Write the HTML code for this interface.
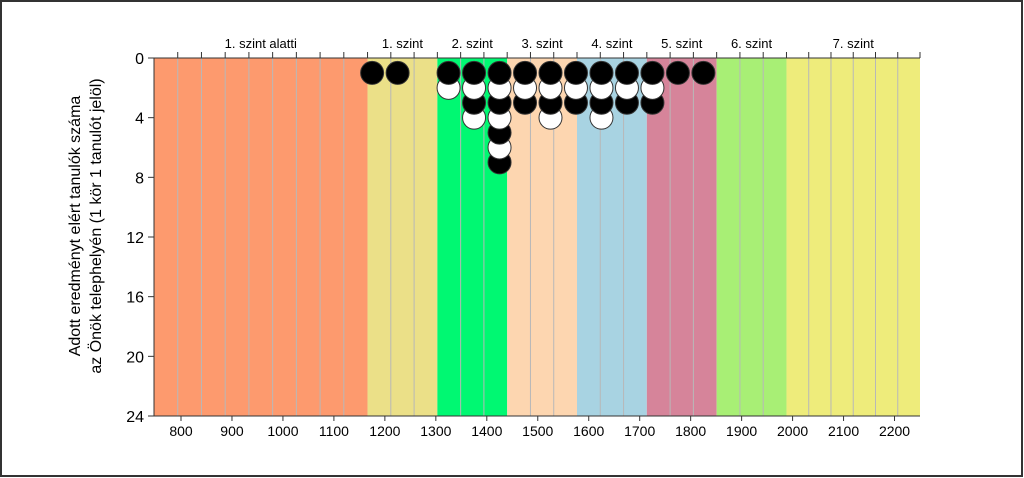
<!DOCTYPE html>
<html><head><meta charset="utf-8"><style>
html,body{margin:0;padding:0;background:#fff}
svg{display:block;font-family:"Liberation Sans",sans-serif}
</style></head><body>
<svg id="chart" width="1024" height="478">
<rect x="1" y="1" width="1021" height="475" fill="#fff" stroke="#333" stroke-width="2"/>
<g id="bands"></g><g id="grid"></g><g id="axes"></g><g id="dots"></g>
<g font-size="16" text-anchor="middle">
<text transform="translate(80,226) rotate(-90)">Adott eredményt elért tanulók száma</text>
<text transform="translate(101,226) rotate(-90)">az Önök telephelyén (1 kör 1 tanulót jelöl)</text>
</g>
</svg>
<script>
const bandEdges=[747,1166,1303,1440,1577,1714,1851,1988,2250];
const bandLabels=["1. szint alatti","1. szint","2. szint","3. szint","4. szint","5. szint","6. szint","7. szint"];
const bandColors=["#fd9a6e","#ebe088","#00f872","#fdd6b0","#a8d3e2","#d6849a","#a8ef75","#eeec7b"];
const xTicks=[800,900,1000,1100,1200,1300,1400,1500,1600,1700,1800,1900,2000,2100,2200];
const yTicks=[0,4,8,12,16,20,24];
const scores=[1175,1225,1325,1375,1425,1475,1525,1575,1625,1675,1725,1775,1825];
const counts=[1,1,2,4,7,3,4,3,4,3,3,1,1];
const NS="http://www.w3.org/2000/svg";
const L=154,R=920,T=58,B=416;
const x=v=>L+(v-747)/(2250-747)*(R-L);
const y=v=>T+v/24*(B-T);
function mk(p,t,a){const e=document.createElementNS(NS,t);for(const k in a)e.setAttribute(k,a[k]);p.appendChild(e);return e;}
const gb=document.getElementById('bands'),gg=document.getElementById('grid'),ga=document.getElementById('axes'),gd=document.getElementById('dots');
for(let i=0;i<bandLabels.length;i++){
 const x0=x(bandEdges[i]),x1=x(bandEdges[i+1]);
 const r=mk(gb,'rect',{x:x0,y:T,width:x1-x0,height:B-T,fill:bandColors[i]});
 
 
 const w=bandEdges[i+1]-bandEdges[i];
 const n=Math.max(1,Math.round(w/45.7));
 for(let k=1;k<n;k++){
  const gx=x(bandEdges[i+1]-k*w/n);
  const ln=mk(gg,'line',{x1:gx,x2:gx,y1:T,y2:B,stroke:'#b8b8b8','stroke-width':1});
  
  
  mk(ga,'line',{x1:gx,x2:gx,y1:T-6,y2:T,stroke:'#333'});
 }
 mk(ga,'line',{x1:x1,x2:x1,y1:T-6,y2:T,stroke:'#333'});
 const t=mk(ga,'text',{x:(x0+x1)/2,y:48,'font-size':13,'text-anchor':'middle',fill:'#000'});
 t.textContent=bandLabels[i];
 
 
}
mk(ga,'line',{x1:L,x2:R,y1:T,y2:T,stroke:'#333'});
mk(ga,'line',{x1:L,x2:R,y1:B,y2:B,stroke:'#333'});
mk(ga,'line',{x1:L,x2:L,y1:T,y2:B,stroke:'#333'});
xTicks.forEach(v=>{
 mk(ga,'line',{x1:x(v),x2:x(v),y1:B,y2:B+5,stroke:'#333'});
 const t=mk(ga,'text',{x:x(v),y:B+20,'font-size':14,'text-anchor':'middle'});
 t.textContent=v;
 
 
});
yTicks.forEach(v=>{
 mk(ga,'line',{x1:L-6,x2:L,y1:y(v),y2:y(v),stroke:'#333'});
 const t=mk(ga,'text',{x:L-10,y:y(v)+6,'font-size':16,'text-anchor':'end'});
 t.textContent=v;
 
 
});
scores.forEach((s,i)=>{
 for(let k=counts[i];k>=1;k--){
  const c=mk(gd,'circle',{cx:x(s),cy:y(k),r:11.5,fill:k%2?'#000':'#fff',stroke:'#333','stroke-width':1});
  
  
 }
});
</script>
</body></html>
